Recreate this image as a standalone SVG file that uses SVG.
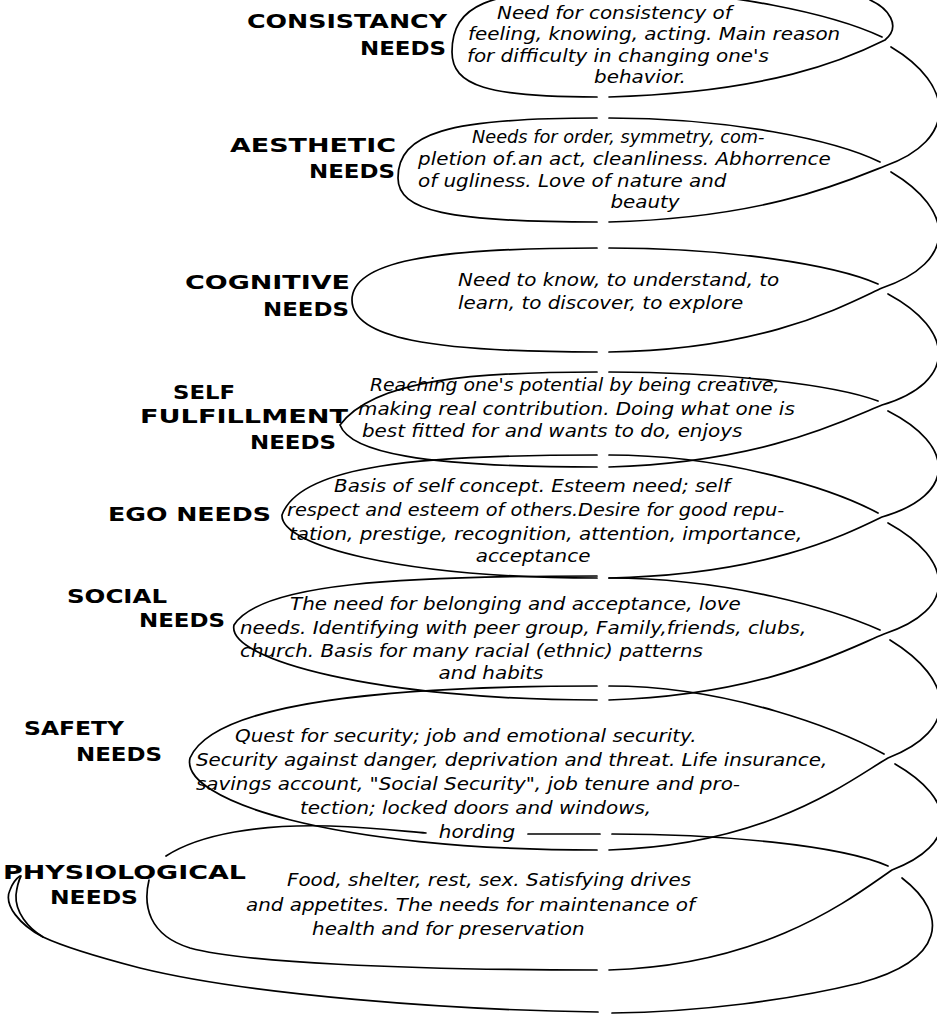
<svg xmlns="http://www.w3.org/2000/svg" width="937" height="1020" viewBox="0 0 937 1020">
<style>
.ln{fill:none;stroke:#000;stroke-width:1.7;stroke-linecap:round}
.lb{font-family:"DejaVu Sans","Liberation Sans",sans-serif;font-weight:bold;font-size:20px;fill:#000}
.tx{font-family:"DejaVu Sans","Liberation Sans",sans-serif;font-style:italic;font-size:17px;fill:#000}
.c{text-anchor:middle}
</style>
<rect width="937" height="1020" fill="#fff"/>
<g id="level-consistency">
<path class="ln" d="M597,-10 C488,-10 452,5 452,52 C452,86 488,97 597,97"/>
<path class="ln" d="M609,-10 C730,-10 835,15 882,37"/>
<text class="lb" x="247" y="28" textLength="200" lengthAdjust="spacingAndGlyphs">CONSISTANCY</text>
<text class="lb" x="360" y="55" textLength="86" lengthAdjust="spacingAndGlyphs">NEEDS</text>
<g transform="scale(1.17 1)">
<text class="tx" x="424.8" y="19">Need for consistency of</text>
<text class="tx" x="400" y="40">feeling, knowing, acting. Main reason</text>
<text class="tx" x="399.1" y="62">for difficulty in changing one's</text>
<text class="tx c" x="547" y="83">behavior.</text>
</g>
</g>
<g id="level-aesthetic">
<path class="ln" d="M597,118 C448,118 398,133 398,178 C398,211 448,222 597,222"/>
<path class="ln" d="M609,118 C730,118 835,140 880,162"/>
<text class="lb" x="230" y="152" textLength="166" lengthAdjust="spacingAndGlyphs">AESTHETIC</text>
<text class="lb" x="309" y="178" textLength="86" lengthAdjust="spacingAndGlyphs">NEEDS</text>
<g transform="scale(1.17 1)">
<text class="tx" x="403.4" y="143" textLength="250" lengthAdjust="spacingAndGlyphs">Needs for order, symmetry, com-</text>
<text class="tx" x="357.3" y="165">pletion of.an act, cleanliness.  Abhorrence</text>
<text class="tx" x="357.3" y="187">of ugliness.  Love of nature and</text>
<text class="tx c" x="551.3" y="208">beauty</text>
</g>
</g>
<g id="level-cognitive">
<path class="ln" d="M597,248 C430,248 352,262 352,300 C352,338 430,352 597,352"/>
<path class="ln" d="M609,248 C730,248 835,265 878,284"/>
<text class="lb" x="185" y="289" textLength="165" lengthAdjust="spacingAndGlyphs">COGNITIVE</text>
<text class="lb" x="263" y="316" textLength="86" lengthAdjust="spacingAndGlyphs">NEEDS</text>
<g transform="scale(1.17 1)">
<text class="tx" x="391.5" y="286">Need to know, to understand, to</text>
<text class="tx" x="391.5" y="309">learn, to discover, to explore</text>
</g>
</g>
<g id="level-self-fulfillment">
<path class="ln" d="M597,372 C480,372 375,378 340,425 C350,452 420,467 597,467"/>
<path class="ln" d="M609,372 C730,372 835,385 878,401"/>
<text class="lb" x="173" y="399" textLength="62" lengthAdjust="spacingAndGlyphs">SELF</text>
<text class="lb" x="140" y="423" textLength="208" lengthAdjust="spacingAndGlyphs">FULFILLMENT</text>
<text class="lb" x="250" y="449" textLength="86" lengthAdjust="spacingAndGlyphs">NEEDS</text>
<g transform="scale(1.17 1)">
<text class="tx" x="316.2" y="391" textLength="350" lengthAdjust="spacingAndGlyphs">Reaching one's potential by being creative,</text>
<text class="tx" x="306" y="415">making real contribution.  Doing what one is</text>
<text class="tx" x="309.4" y="437">best fitted for and wants to do, enjoys</text>
</g>
</g>
<g id="level-ego">
<path class="ln" d="M597,455 C420,455 300,465 282,515 C280,545 400,578 597,578"/>
<path class="ln" d="M609,455 C730,455 835,490 878,513"/>
<text class="lb" x="108" y="521" textLength="163" lengthAdjust="spacingAndGlyphs">EGO NEEDS</text>
<g transform="scale(1.17 1)">
<text class="tx" x="285.5" y="492">Basis of self concept.  Esteem need; self</text>
<text class="tx" x="245.3" y="516" textLength="425" lengthAdjust="spacingAndGlyphs">respect and esteem of others.Desire for good repu-</text>
<text class="tx" x="247" y="540">tation, prestige, recognition, attention, importance,</text>
<text class="tx c" x="455.6" y="562">acceptance</text>
</g>
</g>
<g id="level-social">
<path class="ln" d="M597,576 C400,576 260,583 234,625 C226,660 380,700 597,700"/>
<path class="ln" d="M609,578 C730,578 835,610 880,630"/>
<text class="lb" x="67" y="603" textLength="100" lengthAdjust="spacingAndGlyphs">SOCIAL</text>
<text class="lb" x="139" y="627" textLength="86" lengthAdjust="spacingAndGlyphs">NEEDS</text>
<g transform="scale(1.17 1)">
<text class="tx" x="247.9" y="610">The need for belonging and acceptance, love</text>
<text class="tx" x="205.1" y="634">needs. Identifying with peer group,  Family,friends, clubs,</text>
<text class="tx" x="205.1" y="657">church. Basis for many racial (ethnic) patterns</text>
<text class="tx c" x="419.7" y="679">and habits</text>
</g>
</g>
<g id="level-safety">
<path class="ln" d="M597,686 C400,686 215,700 190,758 C180,800 330,850 597,850"/>
<path class="ln" d="M609,686 C730,686 840,730 884,754"/>
<text class="lb" x="24" y="735" textLength="100" lengthAdjust="spacingAndGlyphs">SAFETY</text>
<text class="lb" x="76" y="761" textLength="86" lengthAdjust="spacingAndGlyphs">NEEDS</text>
<g transform="scale(1.17 1)">
<text class="tx" x="200.9" y="742">Quest for security; job and emotional security.</text>
<text class="tx" x="167.5" y="766">Security against danger, deprivation and threat. Life insurance,</text>
<text class="tx" x="167.5" y="790">savings account, "Social Security", job tenure and pro-</text>
<text class="tx" x="256.4" y="814">tection; locked doors and windows,</text>
<text class="tx c" x="407.7" y="838">hording</text>
</g>
</g>
<g id="level-physiological">
<path class="ln" d="M149,880 C143,905 148,935 190,948 C240,962 400,970 597,970"/>
<path class="ln" d="M166,856 C200,834 260,824 330,826 C380,828 410,832 426,833"/>
<path class="ln" d="M528,834 L600,834"/>
<path class="ln" d="M612,834 C720,834 840,845 888,866"/>
<text class="lb" x="3" y="879" textLength="243" lengthAdjust="spacingAndGlyphs">PHYSIOLOGICAL</text>
<text class="lb" x="50" y="904" textLength="88" lengthAdjust="spacingAndGlyphs">NEEDS</text>
<g transform="scale(1.17 1)">
<text class="tx" x="245.3" y="886">Food, shelter, rest, sex.  Satisfying drives</text>
<text class="tx" x="210.3" y="911">and appetites.  The needs for maintenance of</text>
<text class="tx" x="266.7" y="935">health and for preservation</text>
</g>
</g>
<g id="spiral-connectors">
<path class="ln" d="M870,0 C888,8 902,26 885,40 C845,60 770,92 609,97"/>
<path class="ln" d="M891,47 C955,85 958,140 885,166 C845,182 765,218 609,222"/>
<path class="ln" d="M891,172 C955,210 958,262 882,288 C845,305 765,350 609,352"/>
<path class="ln" d="M888,294 C955,330 958,382 882,405 C845,420 765,462 609,467"/>
<path class="ln" d="M888,411 C955,445 958,495 882,517 C845,535 765,575 609,578"/>
<path class="ln" d="M888,523 C955,560 958,610 884,634 C845,650 765,695 609,700"/>
<path class="ln" d="M890,640 C955,680 960,730 888,758 C850,780 770,845 609,850"/>
<path class="ln" d="M895,764 C958,800 958,845 892,870 C855,895 770,965 609,970"/>
<path class="ln" d="M902,878 C950,915 945,960 860,983 C790,1000 700,1012 612,1013"/>
<path class="ln" d="M598,1012 C450,1010 250,995 140,968 C90,955 60,945 43,937 C20,925 3,905 10,890 C13,882 17,878 20,876"/>
<path class="ln" d="M43,937 C28,928 15,912 16,895 C17,886 19,880 21,876"/>
</g>
</svg>
